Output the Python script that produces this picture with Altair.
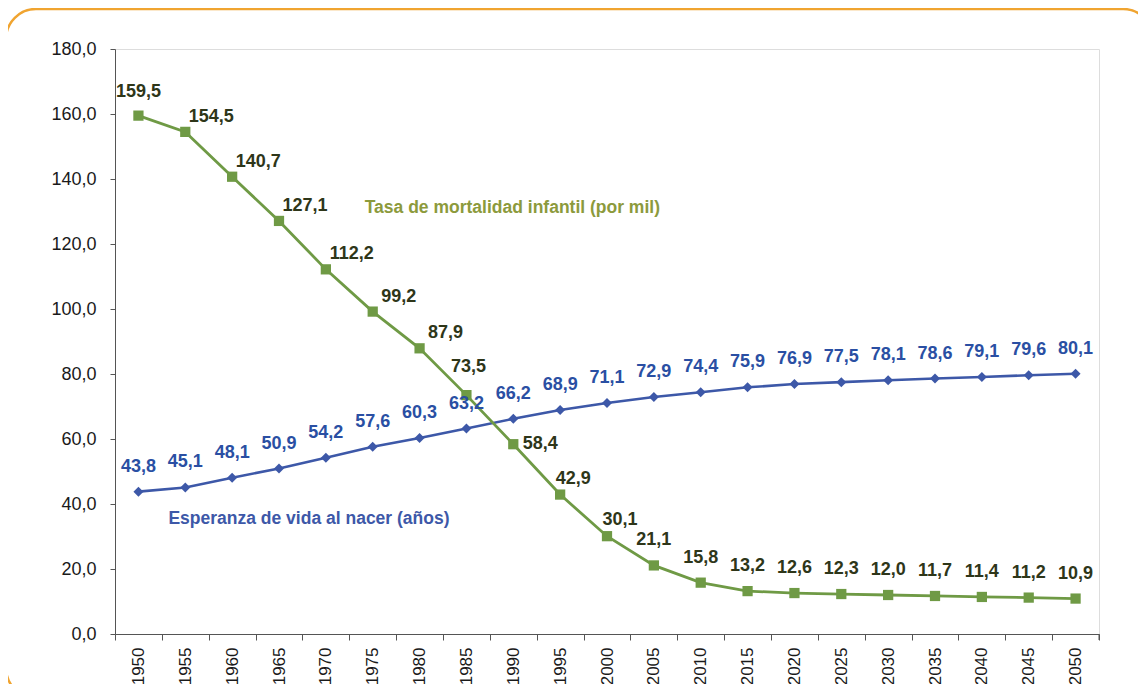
import altair as alt
import pandas as pd

years = ["1950", "1955", "1960", "1965", "1970", "1975", "1980", "1985", "1990", "1995", "2000",
         "2005", "2010", "2015", "2020", "2025", "2030", "2035", "2040", "2045", "2050"]
mortalidad = [159.5, 154.5, 140.7, 127.1, 112.2, 99.2, 87.9, 73.5, 58.4, 42.9, 30.1,
              21.1, 15.8, 13.2, 12.6, 12.3, 12.0, 11.7, 11.4, 11.2, 10.9]
esperanza = [43.8, 45.1, 48.1, 50.9, 54.2, 57.6, 60.3, 63.2, 66.2, 68.9, 71.1,
             72.9, 74.4, 75.9, 76.9, 77.5, 78.1, 78.6, 79.1, 79.6, 80.1]
series_names = ["Tasa de mortalidad infantil (por mil)", "Esperanza de vida al nacer (años)"]

GREEN = "#6f9a45"
GREEN_TXT = "#2e3619"
GREEN_ANN = "#8c9a3c"
BLUE = "#3d58a8"
BLUE_TXT = "#2a4fa3"
FONT = "Liberation Sans"

W, H = 984, 585

df_m = pd.DataFrame({"year": years, "val": mortalidad})
df_e = pd.DataFrame({"year": years, "val": esperanza})
for d in (df_m, df_e):
    d["label"] = d["val"].map(lambda v: f"{v:.1f}".replace(".", ","))

x_enc = alt.X("year:O", title=None,
              scale=alt.Scale(paddingInner=0, paddingOuter=0),
              axis=alt.Axis(labelAngle=-90, tickBand="extent", tickSize=6, labelPadding=7,
                            labelFontSize=17, labelFont=FONT, labelColor="#1a1a1a",
                            domainColor="#555", tickColor="#555"))
y_enc = alt.Y("val:Q", title=None,
              scale=alt.Scale(domain=[0, 180]),
              axis=alt.Axis(values=list(range(0, 181, 20)), tickSize=5, labelPadding=14,
                            labelExpr="replace(format(datum.value, '.1f'), '.', ',')",
                            labelFontSize=18, labelFont=FONT, labelColor="#1a1a1a",
                            domainColor="#555", tickColor="#555", grid=False))

base_m = alt.Chart(df_m).encode(x=x_enc, y=y_enc)
base_e = alt.Chart(df_e).encode(x=x_enc, y=y_enc)

line_e = base_e.mark_line(color=BLUE, strokeWidth=2.6)
pts_e = base_e.mark_point(shape="diamond", filled=True, color=BLUE, size=100, opacity=1)
line_m = base_m.mark_line(color=GREEN, strokeWidth=2.8)
pts_m = base_m.mark_point(shape="square", filled=True, color=GREEN, size=105, opacity=1)

txt_kw = dict(font=FONT, fontSize=18, fontWeight="bold")
lab_e = base_e.mark_text(color=BLUE_TXT, dy=-25, **txt_kw).encode(text="label:N")

yr = "toNumber(datum.year)"
g_first = base_m.transform_filter(f"{yr} == 1950").mark_text(color=GREEN_TXT, dy=-24, **txt_kw).encode(text="label:N")
g_early = base_m.transform_filter(f"{yr} >= 1955 && {yr} <= 1980").mark_text(color=GREEN_TXT, dx=26, dy=-15, **txt_kw).encode(text="label:N")
g_85 = base_m.transform_filter(f"{yr} == 1985").mark_text(color=GREEN_TXT, dx=2, dy=-28, **txt_kw).encode(text="label:N")
g_90 = base_m.transform_filter(f"{yr} == 1990").mark_text(color=GREEN_TXT, dx=27, dy=0, **txt_kw).encode(text="label:N")
g_mid = base_m.transform_filter(f"{yr} == 1995 || {yr} == 2000").mark_text(color=GREEN_TXT, dx=13, dy=-16, **txt_kw).encode(text="label:N")
g_late = base_m.transform_filter(f"{yr} >= 2005").mark_text(color=GREEN_TXT, dy=-25, **txt_kw).encode(text="label:N")

ann_m = alt.Chart(pd.DataFrame({"year": ["1975"], "val": [131.0], "t": [series_names[0]]})).mark_text(
    align="left", dx=-8, color=GREEN_ANN, font=FONT, fontSize=17.5, fontWeight="bold"
).encode(x=x_enc, y=y_enc, text="t:N")
ann_e = alt.Chart(pd.DataFrame({"year": ["1950"], "val": [35.4], "t": [series_names[1]]})).mark_text(
    align="left", dx=30, color=BLUE, font=FONT, fontSize=17.5, fontWeight="bold"
).encode(x=x_enc, y=y_enc, text="t:N")

frame = alt.Chart(pd.DataFrame({"a": [0]})).mark_rect(
    fill=None, stroke="#f0a430", strokeWidth=2.5, cornerRadius=30
).encode(x=alt.value(-109), x2=alt.value(1038), y=alt.value(-40), y2=alt.value(649))

edge_tick = alt.Chart(pd.DataFrame({"a": [0]})).mark_rule(color="#555").encode(
    x=alt.value(W), y=alt.value(H), y2=alt.value(H + 6))

chart = alt.layer(
    frame, line_e, pts_e, line_m, pts_m, lab_e,
    g_first, g_early, g_85, g_90, g_mid, g_late, ann_m, ann_e, edge_tick
).properties(
    width=W, height=H,
    autosize=alt.AutoSizeParams(type="none"),
    padding={"left": 107, "top": 41, "right": 39, "bottom": 50},
).configure_view(stroke=None).configure(background="white")

chart.save("out.html", embed_options={"renderer": "svg", "actions": False})
